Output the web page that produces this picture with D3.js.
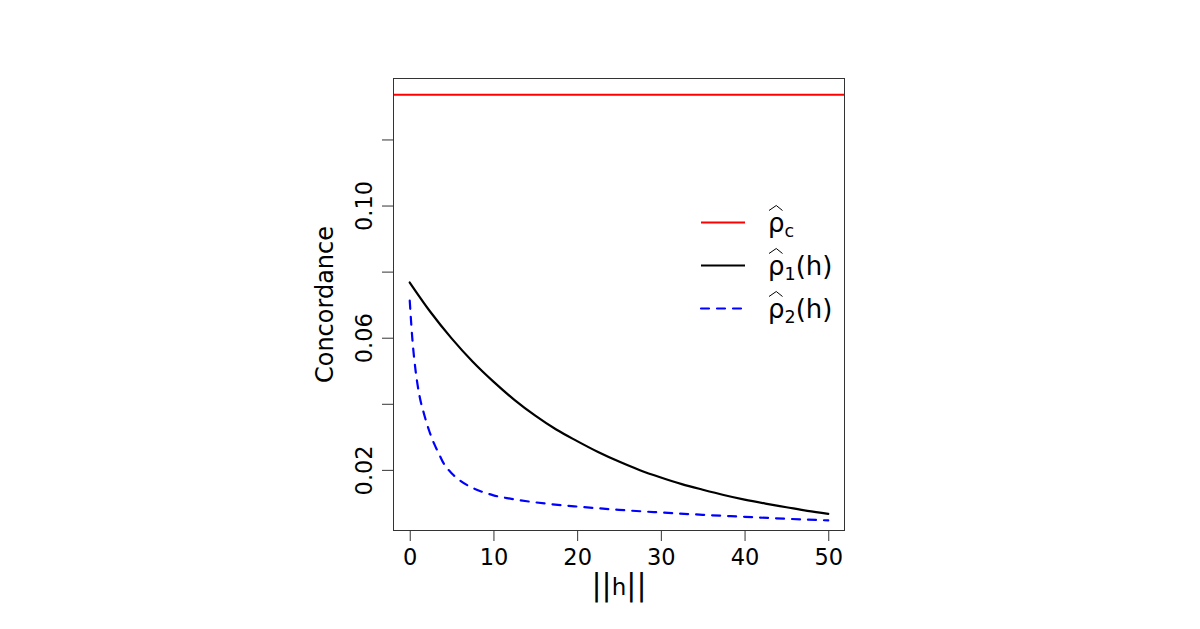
<!DOCTYPE html>
<html>
<head>
<meta charset="utf-8">
<script src="https://cdn.jsdelivr.net/npm/d3@7"></script>
<style>
  body { margin: 0; background: #fff; }
  text { font-family: "DejaVu Sans", sans-serif; fill: #000; }
</style>
</head>
<body>
<div class="canvas"></div>
<script>
// data
const hOne = [0, 2.5, 5, 7.5, 10, 12.5, 15, 17.5, 20, 22.5, 25, 27.5, 30, 32.5, 35, 37.5, 40, 42.5, 45, 47.5, 50];
const rhoOne = [0.0767, 0.0677, 0.0598, 0.0528, 0.0467, 0.0412, 0.0364, 0.0322, 0.0287, 0.0254, 0.0225,
                0.0199, 0.0177, 0.0157, 0.0140, 0.0124, 0.0110, 0.0098, 0.0087, 0.0076, 0.0067];
const hTwo = [0, 0.3, 0.7, 1.2, 1.7, 2.3, 2.9, 3.5, 4, 5, 6, 7, 8, 10, 12, 14, 17, 20, 25, 30, 35, 40, 45, 50];
const rhoTwo = [0.0712, 0.0600, 0.0500, 0.0420, 0.0370, 0.0320, 0.0280, 0.0248, 0.0222, 0.0190, 0.0168, 0.0152,
                0.0140, 0.0123, 0.0113, 0.0105, 0.0096, 0.0089, 0.0079, 0.0071, 0.0064, 0.0058, 0.0052, 0.0047];
const rhoC = 0.1335;
const xTicks = [0, 10, 20, 30, 40, 50];
const yTicks = [0.02, 0.04, 0.06, 0.08, 0.10, 0.12];
const yLabelled = [0.02, 0.06, 0.10];

// plot box
const box = { left: 393, right: 845, top: 78, bottom: 531 };

const svg = d3.select('.canvas')
  .append('svg')
  .attr('width', 1200)
  .attr('height', 629);

const x = d3.scaleLinear().domain([-2, 52]).range([box.left, box.right]);
const y = d3.scaleLinear().domain([0.0015, 0.1386]).range([box.bottom, box.top]);

//------------------------axes
const xAxis = svg.append('g')
  .attr('transform', `translate(0, ${box.bottom})`)
  .call(d3.axisBottom(x).tickValues(xTicks).tickSize(10).tickPadding(8).tickFormat(d3.format('d')));
xAxis.select('.domain').remove();
xAxis.selectAll('text').style('font-size', '22.5px').attr('dy', '0.71em');

const yAxis = svg.append('g')
  .attr('transform', `translate(${box.left}, 0)`)
  .call(d3.axisLeft(y).tickValues(yTicks).tickSize(11).tickFormat(d => yLabelled.includes(d) ? d3.format('.2f')(d) : ''));
yAxis.select('.domain').remove();
yAxis.selectAll('text')
  .style('font-size', '22.5px')
  .attr('x', null).attr('dy', null)
  .attr('text-anchor', 'middle')
  .attr('transform', 'translate(-21, 0) rotate(-90)');

svg.selectAll('.tick line').attr('stroke', '#333');

// axis titles
const xTitle = svg.append('text')
  .attr('x', (box.left + box.right) / 2)
  .attr('y', 595)
  .attr('text-anchor', 'middle')
  .style('font-size', '23px');
xTitle.append('tspan').style('font-size', '30px').text('||');
xTitle.append('tspan').text('h');
xTitle.append('tspan').style('font-size', '30px').text('||');

svg.append('text')
  .attr('transform', `translate(333, ${(box.top + box.bottom) / 2}) rotate(-90)`)
  .attr('text-anchor', 'middle')
  .style('font-size', '24px')
  .text('Concordance');

//------------------------lines (clipped to the plot box)
svg.append('clipPath').attr('id', 'clip')
  .append('rect')
  .attr('x', box.left).attr('y', box.top)
  .attr('width', box.right - box.left).attr('height', box.bottom - box.top);

const plot = svg.append('g').attr('clip-path', 'url(#clip)');

plot.append('line')
  .attr('x1', box.left).attr('x2', box.right)
  .attr('y1', y(rhoC)).attr('y2', y(rhoC))
  .attr('stroke', '#ff0000')
  .attr('stroke-width', 2);

const line = d3.line()
  .x(d => x(d[0]))
  .y(d => y(d[1]))
  .curve(d3.curveMonotoneX);

plot.append('path')
  .datum(hOne.map((h, i) => [h, rhoOne[i]]))
  .attr('d', line)
  .attr('fill', 'none')
  .attr('stroke', '#000')
  .attr('stroke-width', 2.2)
  .attr('stroke-linecap', 'round');

plot.append('path')
  .datum(hTwo.map((h, i) => [h, rhoTwo[i]]))
  .attr('d', line)
  .attr('fill', 'none')
  .attr('stroke', '#0000ff')
  .attr('stroke-width', 2.2)
  .attr('stroke-dasharray', '8,8')
  .attr('stroke-linecap', 'round');

// box on top
svg.append('rect')
  .attr('x', box.left + 0.5).attr('y', box.top + 0.5)
  .attr('width', box.right - box.left - 1).attr('height', box.bottom - box.top - 1)
  .attr('fill', 'none')
  .attr('stroke', '#333')
  .attr('stroke-width', 1);

//------------------------legend
const legendItems = [
  { sub: 'c', tail: '', color: '#ff0000', dash: null },
  { sub: '1', tail: '(h)', color: '#000', dash: null },
  { sub: '2', tail: '(h)', color: '#0000ff', dash: '8,8' }
];

const legend = svg.append('g').attr('transform', 'translate(700, 222.5)');

legendItems.forEach((d, i) => {
  const row = legend.append('g').attr('transform', `translate(0, ${i * 43})`);
  row.append('line')
    .attr('x1', 1).attr('x2', 45)
    .attr('stroke', d.color)
    .attr('stroke-width', 2.2)
    .attr('stroke-dasharray', d.dash)
    .attr('stroke-linecap', d.dash ? 'round' : 'butt');

  const t = row.append('text')
    .attr('x', 68).attr('y', 9.5)
    .style('font-size', '26px');
  t.append('tspan').text('ρ');
  t.append('tspan').attr('dy', 4.5).style('font-size', '17.5px').text(d.sub);
  if (d.tail) t.append('tspan').attr('dy', -4.5).text(d.tail);

  // wide hat over rho
  const w = t.node().getSubStringLength(0, 1);
  const hb = -12;
  row.append('path')
    .attr('d', `M${69},${hb} L${68 + w / 2},${hb - 5} L${68 + w - 2},${hb}`)
    .attr('fill', 'none')
    .attr('stroke', '#000')
    .attr('stroke-width', 1);
});
</script>
</body>
</html>
